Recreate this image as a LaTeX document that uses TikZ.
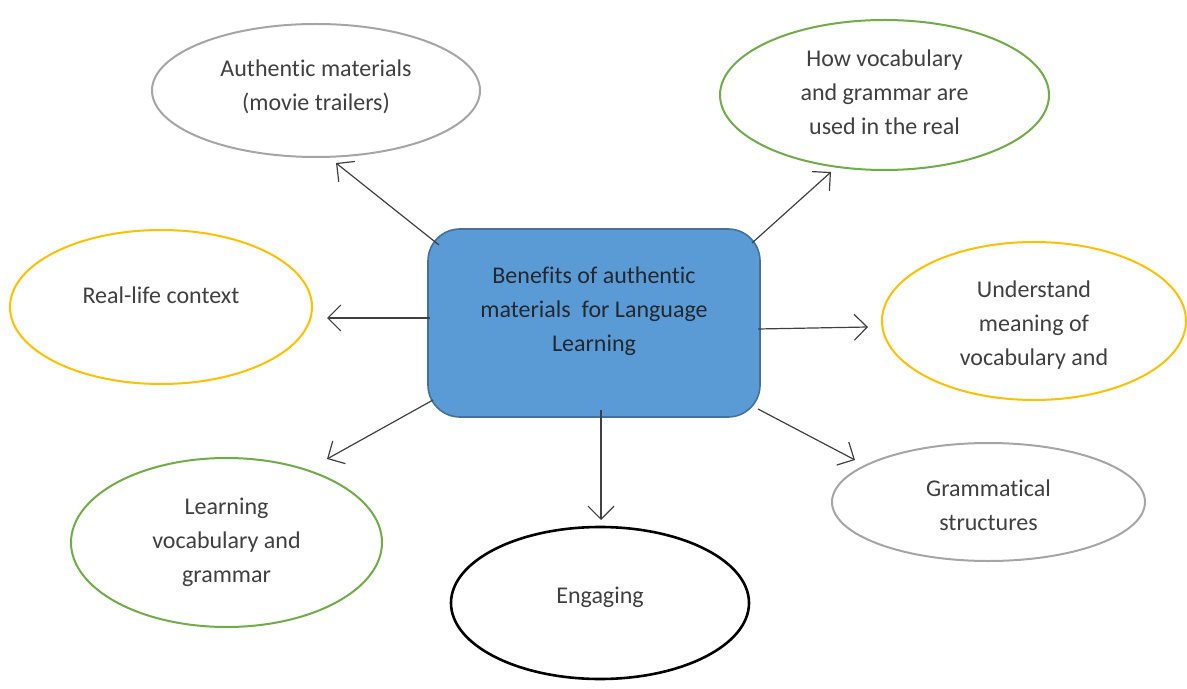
\documentclass[tikz,border=0pt]{standalone}
\usepackage{fontspec}
\setmainfont{Carlito}[Ligatures={NoCommon}]
\usetikzlibrary{shapes.geometric,arrows.meta}
\definecolor{boxfill}{HTML}{5B9BD5}
\definecolor{boxline}{HTML}{41719C}
\definecolor{ogray}{HTML}{A5A5A5}
\definecolor{ogreen}{HTML}{70AD47}
\definecolor{ogold}{HTML}{FFC000}
\definecolor{txt}{HTML}{404040}
\definecolor{arrowc}{HTML}{404040}
\tikzset{
  bubble/.style={ellipse, draw, line width=1pt, inner sep=0pt, fill=white},
  lbl/.style={align=center, text=txt, inner sep=0pt, font=\fontsize{12}{17}\selectfont},
  arr/.style={draw=arrowc, line width=0.6pt, -{Straight Barb[length=6.5pt,width=13pt]}},
}
\begin{document}
\begin{tikzpicture}[x=0.5pt,y=-0.5pt]
\useasboundingbox (0,0) rectangle (1187,689);
% central box
\node[draw=boxline, line width=0.8pt, fill=boxfill, rounded corners=16pt,
      minimum width=166pt, minimum height=94pt, inner sep=0pt] (box) at (594,323) {};
\node[lbl, text={rgb,255:red,34;green,40;blue,48}] (boxt) at (594,311)
  {Benefits of authentic\\materials\ \ for Language\\Learning};
% ellipses
\node[bubble, draw=ogray, minimum width=164pt, minimum height=66.5pt] (auth) at (316,90.5) {};
\node[lbl] (autht) at (316,87) {Authentic materials\\(movie trailers)};
\node[bubble, draw=ogreen, minimum width=164.5pt, minimum height=75pt] (how) at (884.5,95) {};
\node[lbl] (howt) at (884.5,92) {How vocabulary\\and grammar are\\used in the real};
\node[bubble, draw=ogold, minimum width=151pt, minimum height=77pt] (real) at (161,307) {};
\node[lbl] (realt) at (161,295) {Real-life context};
\node[bubble, draw=ogold, minimum width=152pt, minimum height=79pt] (und) at (1034,321) {};
\node[lbl] (undt) at (1034,325) {Understand\\meaning of\\vocabulary and};
\node[bubble, draw=ogreen, minimum width=155.5pt, minimum height=84.5pt] (learn) at (226.5,542.5) {};
\node[lbl] (learnt) at (226.5,542.5) {Learning\\vocabulary and\\grammar};
\node[bubble, draw=black, line width=1.3pt, minimum width=149pt, minimum height=76pt] (eng) at (600,603) {};
\node[lbl] (engt) at (600,597) {Engaging};
\node[bubble, draw=ogray, minimum width=156.5pt, minimum height=59pt] (gram) at (988.5,502) {};
\node[lbl] (gramt) at (988.5,505.5) {Grammatical\\structures};
% connector end points
\coordinate (s1) at (439,245); \coordinate (t1) at (336,163);
\coordinate (s2) at (752,243); \coordinate (t2) at (831,172);
\coordinate (s3) at (430,318); \coordinate (t3) at (327,318);
\coordinate (s4) at (758,329); \coordinate (t4) at (868,327);
\coordinate (s5) at (433,400); \coordinate (t5) at (327,459);
\coordinate (s6) at (601,410); \coordinate (t6) at (601,520);
\coordinate (s7) at (758,409); \coordinate (t7) at (855,460);
\draw[arr] (s1) -- (t1);
\draw[arr] (s2) -- (t2);
\draw[arr] (s3) -- (t3);
\draw[arr] (s4) -- (t4);
\draw[arr] (s5) -- (t5);
\draw[arr] (s6) -- (t6);
\draw[arr] (s7) -- (t7);
\end{tikzpicture}
\end{document}
